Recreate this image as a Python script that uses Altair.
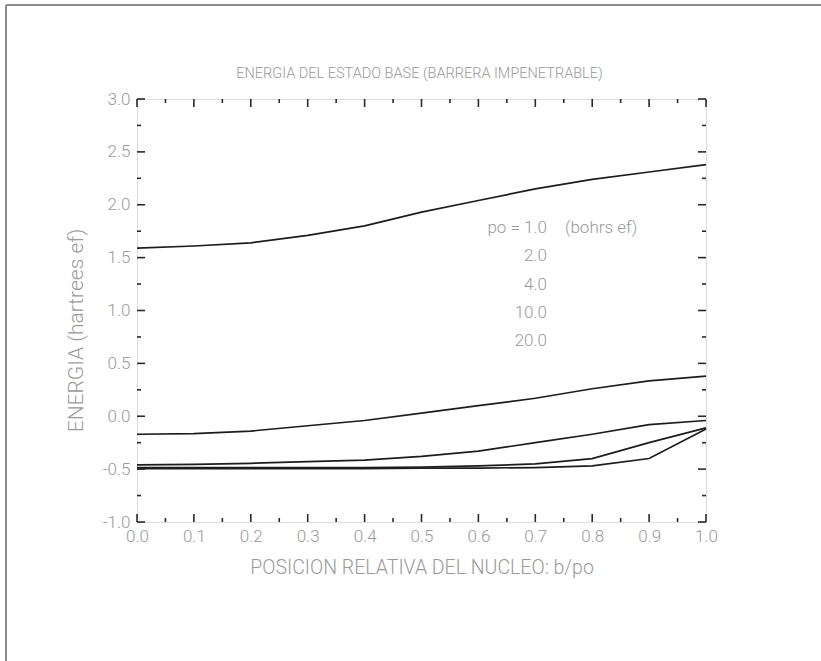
import altair as alt
import pandas as pd

# Relative nucleus position b/po
x_pos = [0.0, 0.1, 0.2, 0.3, 0.4, 0.5, 0.6, 0.7, 0.8, 0.9, 1.0]

# Ground-state energy (hartrees ef) for each confinement radius po
e_po1 = [1.59, 1.61, 1.64, 1.71, 1.80, 1.93, 2.04, 2.15, 2.24, 2.31, 2.38]
e_po2 = [-0.17, -0.165, -0.14, -0.09, -0.04, 0.03, 0.10, 0.17, 0.26, 0.335, 0.38]
e_po4 = [-0.46, -0.455, -0.445, -0.43, -0.415, -0.38, -0.33, -0.25, -0.17, -0.08, -0.04]
e_po10 = [-0.485, -0.485, -0.485, -0.485, -0.485, -0.48, -0.47, -0.45, -0.40, -0.25, -0.11]
e_po20 = [-0.495, -0.495, -0.495, -0.495, -0.495, -0.49, -0.49, -0.485, -0.47, -0.40, -0.12]

po_values = ["1.0", "2.0", "4.0", "10.0", "20.0"]
series = [e_po1, e_po2, e_po4, e_po10, e_po20]

# Axis ticks
x_major = [0.0, 0.1, 0.2, 0.3, 0.4, 0.5, 0.6, 0.7, 0.8, 0.9, 1.0]
x_minor = [0.05, 0.15, 0.25, 0.35, 0.45, 0.55, 0.65, 0.75, 0.85, 0.95]
y_major = [-1.0, -0.5, 0.0, 0.5, 1.0, 1.5, 2.0, 2.5, 3.0]
y_minor = [-0.75, -0.25, 0.25, 0.75, 1.25, 1.75, 2.25, 2.75]

legend_labels = ["po = 1.0", "2.0", "4.0", "10.0", "20.0"]
chart_title = "ENERGIA DEL ESTADO BASE (BARRERA IMPENETRABLE)"

W, H = 569, 423
FONT = "Roboto, DejaVu Sans Condensed, sans-serif"
FW = 300
TXT = "#9a9a9a"
INK = "#2a2a2a"

rows = []
for po, vals in zip(po_values, series):
    for xv, ev in zip(x_pos, vals):
        rows.append({"b": xv, "E": ev, "po": po})
df = pd.DataFrame(rows)

xs = alt.Scale(domain=[0, 1], nice=False, zero=False)
ys = alt.Scale(domain=[-1, 3], nice=False, zero=False)

fmt = "replace(format(datum.value, '.1f'), '\u2212', '-')"

lines = alt.Chart(df).mark_line(color="#1c1c1c", strokeWidth=1.7).encode(
    x=alt.X("b:Q", scale=xs,
            axis=alt.Axis(values=x_major, labelExpr=fmt, ticks=False, domain=False, grid=False,
                          labelFont=FONT, labelFontSize=17, labelFontWeight=FW, labelColor=TXT,
                          labelPadding=6, labelFlush=False, labelOverlap=False,
                          title="POSICION RELATIVA DEL NUCLEO: b/po", titleFont=FONT,
                          titleFontSize=19.5, titleFontWeight=FW, titleColor=TXT,
                          titlePadding=14)),
    y=alt.Y("E:Q", scale=ys,
            axis=alt.Axis(values=y_major, labelExpr=fmt, ticks=False, domain=False, grid=False,
                          labelFont=FONT, labelFontSize=17, labelFontWeight=FW, labelColor=TXT,
                          labelPadding=7, labelFlush=False, labelOverlap=False,
                          title="ENERGIA (hartrees ef)", titleFont=FONT,
                          titleFontSize=21, titleFontWeight=FW, titleColor=TXT,
                          titleY=231, titleX=-61, titleAlign="center", titleBaseline="middle")),
    detail="po:N",
)


def ticks_x(vals, length):
    d = pd.DataFrame({"v": vals})
    base = alt.Chart(d).mark_rule(color=INK, strokeWidth=1.6)
    bottom = base.encode(x=alt.X("v:Q", scale=xs), y=alt.value(H), y2=alt.value(H - length))
    top = base.encode(x=alt.X("v:Q", scale=xs), y=alt.value(0), y2=alt.value(length))
    return [bottom, top]


def ticks_y(vals, length):
    d = pd.DataFrame({"v": vals})
    base = alt.Chart(d).mark_rule(color=INK, strokeWidth=1.6)
    left = base.encode(y=alt.Y("v:Q", scale=ys), x=alt.value(0), x2=alt.value(length))
    right = base.encode(y=alt.Y("v:Q", scale=ys), x=alt.value(W), x2=alt.value(W - length))
    return [left, right]


tick_layers = ticks_x(x_major, 8) + ticks_x(x_minor, 4) + ticks_y(y_major, 8) + ticks_y(y_minor, 4)


def label(text, x, y, align, size=17):
    return alt.Chart(pd.DataFrame({"t": [text]})).mark_text(
        font=FONT, fontSize=size, fontWeight=FW, color=TXT, align=align, baseline="middle"
    ).encode(text="t:N", x=alt.value(x), y=alt.value(y))


# Legend text block
legend_layers = [label(lab, 410, 129 + i * 28.3, "right") for i, lab in enumerate(legend_labels)]
legend_layers.append(label("(bohrs ef)", 428, 129, "left"))

# Chart heading above the frame
heading = label(chart_title, W / 2 - 2, -25, "center", size=14.5)

# Page border (top and left edges)
border = [
    alt.Chart(pd.DataFrame({"k": [0]})).mark_rule(color="#8c8c8c", strokeWidth=2).encode(
        x=alt.value(-131), x2=alt.value(W + 150), y=alt.value(-94)),
    alt.Chart(pd.DataFrame({"k": [0]})).mark_rule(color="#8c8c8c", strokeWidth=2).encode(
        x=alt.value(-131), y=alt.value(-94), y2=alt.value(H + 150)),
]

chart = alt.layer(lines, *tick_layers, *legend_layers, heading, *border).properties(
    width=W,
    height=H,
    autosize=alt.AutoSizeParams(type="none"),
    padding={"left": 137, "top": 99, "right": 115, "bottom": 139},
).configure_view(stroke=INK, strokeWidth=2).configure(background="white")

chart.save("out.html", embed_options={"renderer": "svg", "actions": False})
